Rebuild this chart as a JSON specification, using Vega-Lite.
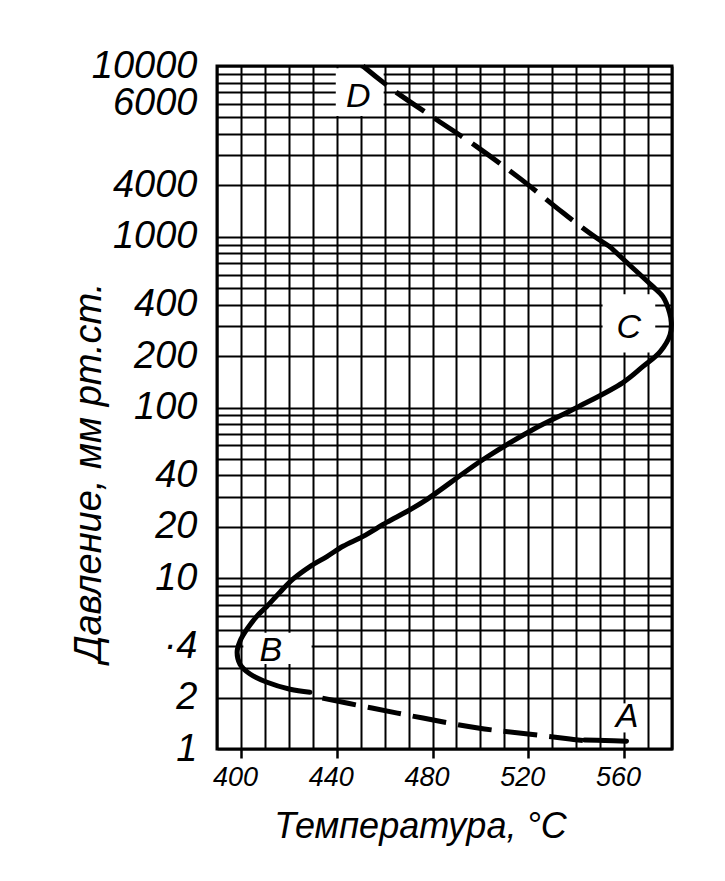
{
  "$schema": "https://vega.github.io/schema/vega-lite/v6.json",
  "width": 455,
  "height": 683,
  "autosize": {"type": "none"},
  "padding": {"left": 217, "top": 66, "right": 53, "bottom": 132},
  "background": "white",
  "config": {"view": {"stroke": "black", "strokeWidth": 3}, "font": "Liberation Sans"},
  "datasets": {
    "boxes": [
      {"name": "D", "t": 439.6, "t2": 459.6, "p": 5100, "p2": 9700},
      {"name": "C", "t": 551, "t2": 573, "p": 210, "p2": 460},
      {"name": "B", "t": 401, "t2": 429.5, "p": 3.15, "p2": 4.8},
      {"name": "A", "t": 555, "t2": 566, "p": 1.25, "p2": 1.85}
    ],
    "solid": [
      {"seg": "A", "i": 1, "t": 543.5, "p": 1.13},
      {"seg": "A", "i": 2, "t": 552, "p": 1.12},
      {"seg": "A", "i": 3, "t": 561, "p": 1.11},
      {"seg": "BC", "i": 1, "t": 428.8, "p": 2.15},
      {"seg": "BC", "i": 2, "t": 420.5, "p": 2.24},
      {"seg": "BC", "i": 3, "t": 410.9, "p": 2.46},
      {"seg": "BC", "i": 4, "t": 403.8, "p": 2.75},
      {"seg": "BC", "i": 5, "t": 399.6, "p": 3.14},
      {"seg": "BC", "i": 6, "t": 398.4, "p": 3.69},
      {"seg": "BC", "i": 7, "t": 399.6, "p": 4.28},
      {"seg": "BC", "i": 8, "t": 402.5, "p": 5.03},
      {"seg": "BC", "i": 9, "t": 406.7, "p": 6.0},
      {"seg": "BC", "i": 10, "t": 410.9, "p": 6.86},
      {"seg": "BC", "i": 11, "t": 416.3, "p": 8.28},
      {"seg": "BC", "i": 12, "t": 421.7, "p": 9.87},
      {"seg": "BC", "i": 13, "t": 428.8, "p": 11.7},
      {"seg": "BC", "i": 14, "t": 435.9, "p": 13.4},
      {"seg": "BC", "i": 15, "t": 442.6, "p": 15.4},
      {"seg": "BC", "i": 16, "t": 451.0, "p": 17.6},
      {"seg": "BC", "i": 17, "t": 461.0, "p": 21.3},
      {"seg": "BC", "i": 18, "t": 469.3, "p": 24.6},
      {"seg": "BC", "i": 19, "t": 477.7, "p": 29.0},
      {"seg": "BC", "i": 21, "t": 501.1, "p": 49.6},
      {"seg": "BC", "i": 22, "t": 522.0, "p": 74.3},
      {"seg": "BC", "i": 23, "t": 540.3, "p": 100},
      {"seg": "BC", "i": 24, "t": 559.5, "p": 140},
      {"seg": "BC", "i": 25, "t": 567.9, "p": 174},
      {"seg": "BC", "i": 26, "t": 575.0, "p": 212},
      {"seg": "BC", "i": 27, "t": 579.2, "p": 267},
      {"seg": "BC", "i": 28, "t": 579.7, "p": 314},
      {"seg": "BC", "i": 29, "t": 579.0, "p": 359},
      {"seg": "BC", "i": 30, "t": 576.2, "p": 446},
      {"seg": "BC", "i": 31, "t": 571.6, "p": 517},
      {"seg": "BC", "i": 32, "t": 560.8, "p": 714},
      {"seg": "BC", "i": 33, "t": 554.1, "p": 874}
    ],
    "dashed": [
      {"seg": "AB", "i": 1, "t": 542.8, "p": 1.12},
      {"seg": "AB", "i": 2, "t": 537.4, "p": 1.144},
      {"seg": "AB", "i": 3, "t": 519.9, "p": 1.224},
      {"seg": "AB", "i": 4, "t": 499.0, "p": 1.327},
      {"seg": "AB", "i": 5, "t": 476.0, "p": 1.518},
      {"seg": "AB", "i": 6, "t": 454.7, "p": 1.737},
      {"seg": "AB", "i": 7, "t": 431.8, "p": 2.014},
      {"seg": "CD", "i": 1, "t": 554.1, "p": 874},
      {"seg": "CD", "i": 2, "t": 547.8, "p": 1000},
      {"seg": "CD", "i": 3, "t": 534.5, "p": 1381},
      {"seg": "CD", "i": 4, "t": 517.3, "p": 2153},
      {"seg": "CD", "i": 5, "t": 498.6, "p": 3361},
      {"seg": "CD", "i": 6, "t": 481.9, "p": 4831},
      {"seg": "CD", "i": 7, "t": 463.5, "p": 7244},
      {"seg": "CD", "i": 8, "t": 450.9, "p": 10000}
    ],
    "letters": [
      {"name": "D", "t": 449.0, "p": 6590},
      {"name": "C", "t": 562.0, "p": 294},
      {"name": "B", "t": 412.5, "p": 3.74},
      {"name": "A", "t": 561.2, "p": 1.54}
    ]
  },
  "encoding": {
    "x": {
      "field": "t",
      "type": "quantitative",
      "scale": {"domain": [390, 580], "nice": false, "zero": false},
      "axis": {
        "values": [390, 400, 410, 420, 430, 440, 450, 460, 470, 480, 490, 500, 510, 520, 530, 540, 550, 560, 570, 580],
        "grid": true,
        "gridColor": "black",
        "gridWidth": 2,
        "gridOpacity": 1,
        "domain": false,
        "ticks": true,
        "tickSize": 9,
        "tickWidth": 2.5,
        "tickColor": {"condition": {"test": "datum.value % 40 == 0", "value": "black"}, "value": "rgba(0,0,0,0)"},
        "labelExpr": "datum.value % 40 == 0 ? datum.label : ''",
        "labelFont": "Liberation Sans",
        "labelFontStyle": "italic",
        "labelFontSize": 27,
        "labelColor": "black",
        "labelPadding": 6,
        "labelOffset": -6,
        "labelOverlap": false,
        "labelFlush": false,
        "labelBound": false,
        "title": "Температура, °C",
        "titleFont": "Liberation Sans",
        "titleFontStyle": "italic",
        "titleFontWeight": "normal",
        "titleFontSize": 36,
        "titleColor": "black",
        "titleX": 203,
        "titleY": 88,
        "titleBaseline": "alphabetic",
        "titleAlign": "center"
      }
    },
    "y": {
      "field": "p",
      "type": "quantitative",
      "scale": {"type": "log", "domain": [1, 10000], "nice": false},
      "axis": {
        "values": [1, 2, 3, 4, 5, 6, 7, 8, 9, 10, 20, 30, 40, 50, 60, 70, 80, 90, 100, 200, 300, 400, 500, 600, 700, 800, 900, 1000, 2000, 3000, 4000, 5000, 6000, 7000, 8000, 9000, 10000],
        "grid": true,
        "gridColor": "black",
        "gridWidth": 2,
        "gridOpacity": 1,
        "domain": false,
        "ticks": false,
        "labelExpr": "datum.value == 2000 ? '4000' : datum.value == 4 ? '·4' : indexof([1, 2, 10, 20, 40, 100, 200, 400, 1000, 6000, 10000], datum.value) >= 0 ? '' + datum.value : ''",
        "labelFont": "Liberation Sans",
        "labelFontStyle": "italic",
        "labelFontSize": 38,
        "labelColor": "black",
        "labelPadding": 20,
        "labelBaseline": "middle",
        "labelOverlap": false,
        "labelFlush": false,
        "labelBound": false,
        "title": "Давление, мм рт.ст.",
        "titleFont": "Liberation Sans",
        "titleFontStyle": "italic",
        "titleFontWeight": "normal",
        "titleFontSize": 38,
        "titleColor": "black",
        "titleAngle": -90,
        "titleX": -117,
        "titleY": 406,
        "titleBaseline": "alphabetic",
        "titleAlign": "center"
      }
    }
  },
  "layer": [
    {
      "data": {"name": "boxes"},
      "mark": {"type": "rect", "fill": "white", "stroke": null},
      "encoding": {"x2": {"field": "t2"}, "y2": {"field": "p2"}}
    },
    {
      "data": {"name": "solid"},
      "mark": {"type": "line", "color": "black", "strokeWidth": 5, "strokeJoin": "round", "strokeCap": "round", "interpolate": "catmull-rom"},
      "encoding": {"detail": {"field": "seg"}, "order": {"field": "i"}}
    },
    {
      "data": {"name": "dashed"},
      "mark": {"type": "line", "color": "black", "strokeWidth": 5, "strokeDash": [34, 12], "strokeCap": "butt", "interpolate": "catmull-rom"},
      "encoding": {"detail": {"field": "seg"}, "order": {"field": "i"}}
    },
    {
      "data": {"name": "letters"},
      "mark": {"type": "text", "font": "Liberation Sans", "fontStyle": "italic", "fontSize": 34, "color": "black", "align": "center", "baseline": "middle"},
      "encoding": {"text": {"field": "name"}}
    }
  ]
}
